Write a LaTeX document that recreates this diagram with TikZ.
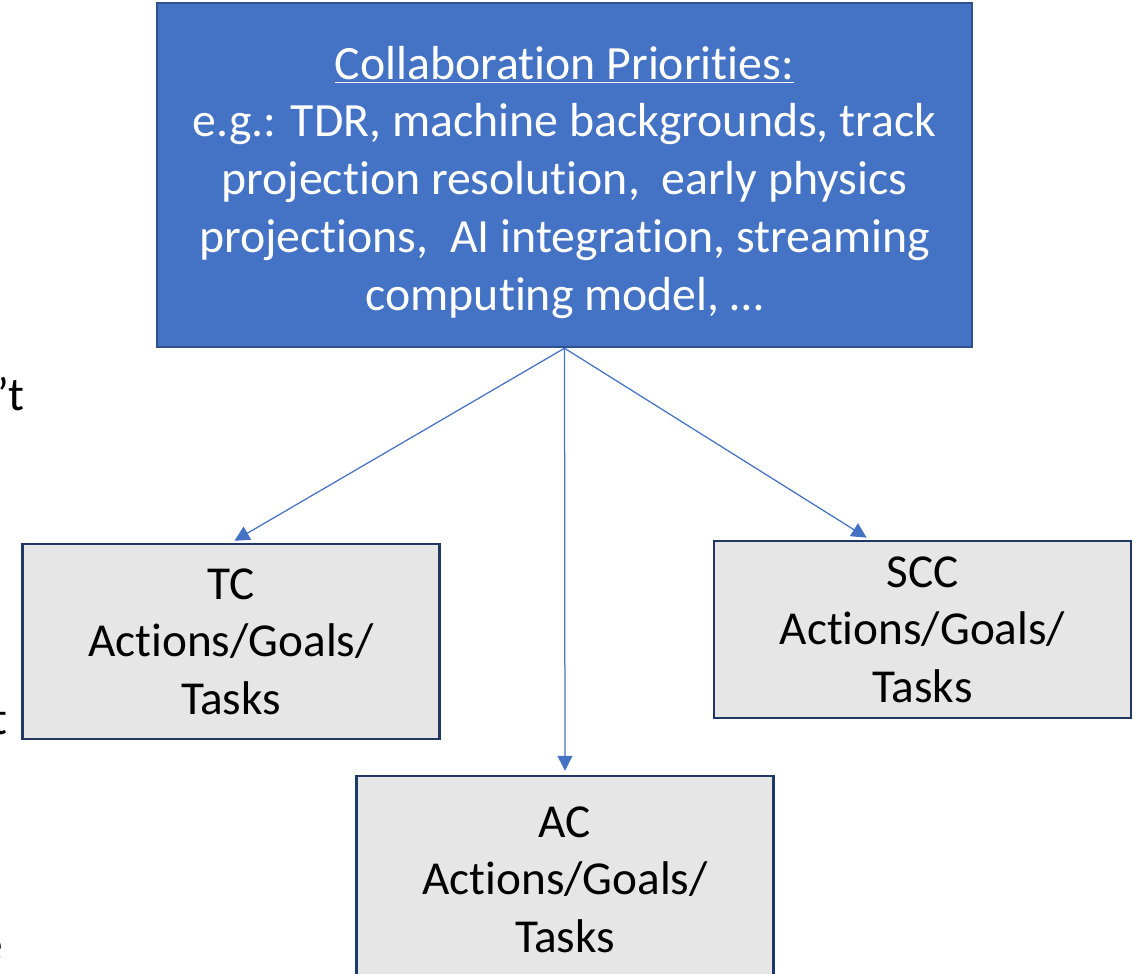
\documentclass[tikz,border=0pt]{standalone}
\usepackage{fontspec}
\setmainfont[Ligatures=NoCommon]{Carlito}
\usepackage{tikz}
\usetikzlibrary{arrows.meta}
\definecolor{prioblue}{HTML}{4472C4}
\definecolor{prioedge}{HTML}{2F528F}
\definecolor{taskgray}{HTML}{E7E6E6}
\definecolor{taskedge}{HTML}{203864}
\tikzset{
  prio/.style={rectangle,draw=prioedge,fill=prioblue,line width=0.05cm,text=white,align=center,
    inner sep=0pt,minimum width=16.3cm,minimum height=6.88cm,font=\fontsize{27.2}{32.9}\selectfont},
  task/.style={rectangle,draw=taskedge,fill=taskgray,line width=0.05cm,text=black,align=center,
    inner sep=0pt,minimum width=8.34cm,font=\fontsize{26.9}{32.7}\selectfont},
  link/.style={-{Triangle[length=0.3cm,width=0.3cm]},prioblue,line width=0.025cm,shorten >=0.08cm},
  cut/.style={font=\fontsize{26.9}{32.7}\selectfont,inner sep=0pt}
}
\begin{document}
\begin{tikzpicture}[x=0.02cm,y=-0.02cm]
\useasboundingbox (0,0) rectangle (1134,974);
\node[prio](prio)at(564.5,175){\rule{0pt}{0.95cm}\underline{Collaboration Priorities:}\\e.g.: TDR, machine backgrounds, track\\projection resolution,\ \ early physics\\projections,\ \ AI integration, streaming\\computing model, \ldots};
\node[task,minimum height=3.9cm](tc)at(231,641.5){TC\\Actions/Goals/\\Tasks};
\node[task,minimum height=3.54cm](scc)at(922.5,629.5){SCC\\Actions/Goals/\\Tasks};
\node[task,minimum height=4.14cm](ac)at(565,879.5){AC\\Actions/Goals/\\Tasks};
% cut-off text at the left edge
\node[cut,anchor=base east](cuta)at(25,410){’t};
\node[cut,anchor=base east](cutb)at(8,734){t};
\node[cut,anchor=base east](cutc)at(3,960){e};
\draw[link](prio.south)--(tc.north);
\draw[link](prio.south)--(ac.north);
\draw[link](prio.south)--([xshift=-1.05cm]scc.north);
\end{tikzpicture}
\end{document}
